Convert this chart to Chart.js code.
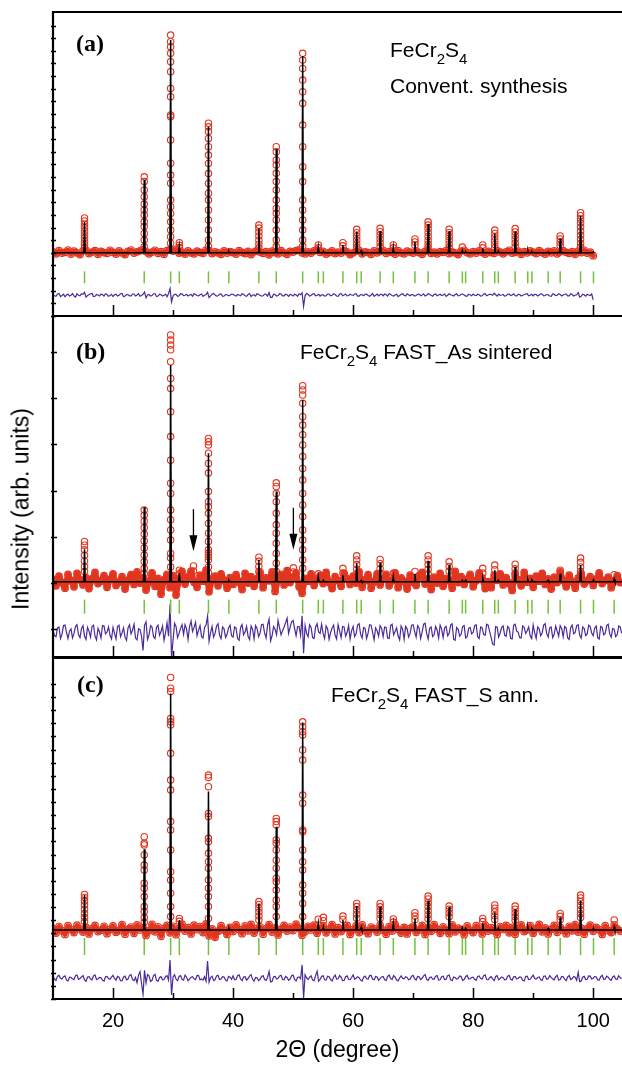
<!DOCTYPE html>
<html lang="en">
<head>
<meta charset="UTF-8">
<title>FeCr2S4 XRD refinement</title>
<script src="https://cdn.jsdelivr.net/npm/chart.js@4.4.0/dist/chart.umd.min.js"></script>
<style>
  body { margin: 0; background: #fff; overflow: hidden; }
  #wrap { position: relative; width: 622px; height: 1066px; font-family: "Liberation Sans", Arial, sans-serif; }
  canvas { position: absolute; left: 0; }
  .lbl { position: absolute; line-height: 1; white-space: nowrap; font-size: 21px; color: #000; }
  .lbl .s { font-size: 15px; position: relative; top: 7px; }
  .pan { position: absolute; line-height: 1; font-family: "Liberation Serif", "Times New Roman", serif; font-weight: bold; font-size: 24px; }
  #ytitle { position: absolute; left: 21px; top: 509px; font-size: 23px; line-height: 1; white-space: nowrap;
            transform: translate(-50%, -50%) rotate(-90deg); }
</style>
</head>
<body>
<div id="wrap">
  <canvas id="pa" width="622" height="318" style="top:0"></canvas>
  <canvas id="pb" width="622" height="353" style="top:306px"></canvas>
  <canvas id="pc" width="622" height="418" style="top:648px"></canvas>

  <div class="pan" style="left:76px; top:31px">(a)</div>
  <div class="pan" style="left:76px; top:339px">(b)</div>
  <div class="pan" style="left:77px; top:672px">(c)</div>

  <div class="lbl" style="left:390px; top:39px">FeCr<span class="s">2</span>S<span class="s">4</span></div>
  <div class="lbl" style="left:390px; top:75px">Convent. synthesis</div>
  <div class="lbl" style="left:300px; top:341px">FeCr<span class="s">2</span>S<span class="s">4</span> FAST_As sintered</div>
  <div class="lbl" style="left:331px; top:684px">FeCr<span class="s">2</span>S<span class="s">4</span> FAST_S ann.</div>

  <div id="ytitle">Intensity (arb. units)</div>
</div>

<script>
  // 2theta scan: observed background sampled every 0.5 deg, difference every 0.25 deg, both from 10
  const scanStart = 10;
  const obsStep = 0.5;
  const diffStep = 0.25;
  const xMin = 10;
  const xMax = 104.8;
  const xTickVals = [20, 30, 40, 50, 60, 70, 80, 90, 100];
  const xLabels = [20, 40, 60, 80, 100];

  // reflection positions (Bragg ticks and fitted peaks)
  const pkPos = [15.25, 25.2, 29.6, 31.05, 35.9, 39.3, 44.3, 47.2, 51.6, 54.2, 55.05, 58.3, 60.6, 61.35, 64.5,
    66.7, 70.3, 72.5, 76.0, 78.2, 78.75, 81.6, 83.6, 84.2, 87.0, 89.1, 89.8, 92.5, 94.5, 97.9, 100.05, 103.5];

  // ---------- (a) conventional synthesis ----------
  const calcBaseA = 25.0;
  const calcTopA = [37.2, 53.8, 109.3, 27.7, 74.9, 25.6, 34.7, 66.0, 102.9, 27.4, 25.6, 28.1, 33.4, 25.8, 33.6,
    27.4, 29.4, 36.4, 33.6, 25.9, 25.5, 26.8, 32.7, 25.7, 33.4, 26.0, 25.4, 25.3, 30.7, 39.6, 25.4, null];
  const obsColA = [
    [38.8, 37.6, 36.3, 35.0, 33.6, 32.2, 30.9, 29.5, 28.2, 27.0],
    [55.1, 53.2, 49.9, 47.2, 44.3, 42.0, 40.0, 37.3, 35.4, 32.7, 30.1, 27.4],
    [111.2, 108.6, 106.6, 104.0, 100.7, 96.7, 90.1, 86.8, 79.6, 78.9, 69.7, 60.5, 55.8, 52.6, 45.9, 43.3, 40.6, 37.3, 34.0, 31.4, 28.8],
    [29.0, 28.0, 27.1],
    [76.3, 74.9, 73.0, 70.3, 67.0, 63.7, 60.4, 56.4, 52.5, 48.6, 45.9, 42.0, 38.0, 34.0, 30.1, 27.6],
    [],
    [36.0, 34.8, 33.3, 31.7, 30.0, 28.4, 27.0],
    [67.0, 65.0, 61.8, 59.8, 56.5, 53.2, 49.9, 45.9, 42.6, 40.7, 38.0, 34.0, 30.1, 27.5],
    [104.0, 101.3, 98.0, 93.4, 88.8, 84.2, 75.6, 67.0, 59.1, 53.2, 45.9, 42.0, 38.0, 34.0, 30.1, 27.6],
    [28.1, 27.0],
    [],
    [29.0, 27.8],
    [34.3, 33.0, 31.6, 30.1, 28.6, 27.2],
    [],
    [34.7, 33.4, 32.0, 30.5, 29.0, 27.5],
    [28.1, 27.0],
    [30.5, 29.3, 28.0],
    [37.3, 36.0, 34.6, 33.1, 31.5, 29.9, 28.4, 27.1],
    [34.3, 33.0, 31.5, 30.0, 28.5, 27.1],
    [27.3],
    [],
    [28.1, 27.0],
    [34.0, 32.7, 31.3, 29.8, 28.3, 27.0],
    [],
    [34.6, 33.3, 31.9, 30.4, 28.9, 27.4],
    [], [], [],
    [31.7, 30.5, 29.2, 27.9],
    [40.9, 39.7, 38.3, 36.8, 35.2, 33.6, 32.0, 30.4, 28.8, 27.3],
    [],
    []
  ];
  const obsBaseA = [
    25.4, 24.6, 25.9, 24.9, 25.2, 26.1, 24.5, 25.7, 25.0, 24.3,
    25.8, 26.0, 24.7, 25.3, 25.9, 24.4, 25.6, 25.1, 24.8, 26.0,
    25.2, 24.5, 25.8, 25.0, 24.3, 25.6, 26.1, 24.9, 25.4, 25.8,
    26.2, 25.5, 24.6, 25.3, 26.0, 24.8, 25.5, 24.4, 25.9, 26.3,
    25.7, 26.4, 24.9, 25.3, 24.5, 25.8, 25.0, 24.6, 25.7, 25.2,
    24.8, 26.1, 25.9, 24.7, 25.4, 25.0, 24.4, 25.8, 24.9, 25.5,
    25.1, 24.5, 25.9, 25.2, 24.7, 25.6, 24.3, 25.4, 26.0, 25.3,
    24.8, 25.5, 24.2, 25.7, 25.1, 24.6, 25.9, 25.0, 24.4, 25.6,
    25.3, 25.9, 26.2, 25.0, 24.6, 25.4, 24.9, 25.8, 26.1, 25.2,
    25.6, 24.5, 25.1, 25.8, 24.7, 25.3, 24.9, 25.9, 25.4, 24.3,
    25.0, 25.7, 26.0, 24.6, 25.4, 25.1, 24.4, 25.8, 25.0, 25.6,
    26.0, 24.8, 25.5, 25.2, 24.5, 25.9, 25.0, 24.6, 25.7, 25.3,
    24.9, 25.8, 25.1, 24.4, 25.6, 25.9, 24.8, 25.3, 24.6, 25.5,
    25.2, 25.9, 24.7, 25.4, 25.0, 24.3, 25.7, 26.0, 25.1, 24.6,
    25.5, 24.9, 25.8, 25.2, 24.5, 25.6, 25.1, 24.8, 25.9, 25.3,
    24.6, 25.4, 26.0, 24.9, 25.2, 25.7, 24.4, 25.5, 25.0, 25.8,
    25.3, 24.7, 25.9, 25.1, 24.5, 25.6, 25.0, 25.8, 24.6, 25.4,
    25.9, 25.2, 24.8, 25.5, 24.4, 25.7, 25.1, 26.0, 24.9, 25.3,
    23.9
  ];
  const diffA = [
    8.5, 8.0, 7.8, 8.7, 8.9, 7.7, 8.1, 8.6, 7.6, 8.3, 8.7, 7.9, 8.2, 8.9, 7.9, 7.5, 8.8, 8.2, 8.0, 8.8,
    8.6, 9.4, 7.5, 8.1, 8.4, 8.8, 8.9, 7.7, 7.8, 8.5, 8.3, 7.9, 8.7, 8.4, 7.9, 8.8, 8.5, 7.8, 8.1, 8.6,
    7.7, 8.4, 8.6, 7.9, 8.2, 8.8, 8.9, 7.6, 7.9, 8.5, 8.4, 8.0, 8.0, 8.7, 8.7, 7.9, 8.3, 8.8, 7.8, 8.1,
    8.6, 9.5, 7.2, 8.3, 8.5, 7.9, 8.1, 8.8, 8.8, 7.7, 7.9, 8.6, 8.4, 7.9, 8.2, 8.6, 7.6, 8.9, 10.9, 5.6,
    7.9, 8.6, 8.6, 7.8, 8.0, 8.8, 8.7, 8.1, 8.2, 8.6, 7.9, 8.3, 8.5, 7.8, 8.9, 8.5, 8.1, 8.0, 8.4, 8.7,
    7.8, 8.2, 8.5, 9.4, 7.3, 8.0, 8.6, 8.9, 8.3, 7.9, 8.0, 8.6, 8.7, 7.8, 7.9, 8.5, 8.4, 8.0, 8.2, 8.7,
    8.6, 8.1, 7.9, 8.5, 8.3, 8.0, 8.8, 8.6, 8.0, 7.8, 8.5, 8.9, 7.7, 8.3, 8.4, 7.9, 8.9, 8.5, 8.2, 7.9,
    8.0, 8.7, 8.6, 7.9, 9.3, 7.4, 7.4, 8.6, 8.5, 7.9, 8.1, 8.8, 8.7, 8.0, 8.0, 8.6, 8.4, 7.8, 8.6, 8.3,
    7.9, 8.6, 8.3, 7.8, 8.8, 8.4, 9.2, 3.8, 8.1, 8.9, 8.6, 7.9, 8.1, 8.7, 8.8, 8.0, 8.2, 8.6, 7.9, 8.4,
    8.4, 7.9, 8.0, 8.7, 8.7, 8.0, 8.2, 8.8, 8.5, 7.9, 7.8, 8.6, 8.9, 8.0, 8.3, 8.7, 8.0, 8.1, 8.6, 8.3,
    8.2, 8.6, 8.8, 7.9, 7.9, 8.5, 8.4, 8.0, 8.6, 8.7, 8.1, 7.8, 8.3, 8.9, 7.8, 8.2, 8.7, 8.0, 8.5, 8.6,
    8.0, 8.7, 8.4, 7.9, 8.9, 8.5, 8.1, 7.9, 8.3, 8.6, 7.7, 8.1, 8.6, 8.8, 8.2, 7.9, 8.8, 8.4, 8.0, 8.5,
    8.4, 7.9, 8.1, 8.6, 8.7, 8.0, 8.3, 8.8, 7.9, 8.2, 8.9, 8.5, 8.2, 7.8, 8.5, 8.7, 8.0, 8.3, 8.6, 8.1,
    8.3, 8.7, 7.8, 8.2, 8.8, 8.4, 8.2, 7.9, 8.5, 8.8, 8.0, 8.1, 8.6, 8.7, 8.3, 7.9, 7.9, 8.6, 8.4, 8.0,
    8.7, 8.2, 8.1, 8.6, 8.4, 7.9, 8.0, 8.7, 8.8, 8.0, 8.3, 8.6, 8.5, 8.2, 9.0, 8.4, 7.9, 8.7, 8.2, 8.3,
    8.5, 7.9, 8.0, 8.6, 8.7, 8.1, 8.3, 8.8, 8.1, 7.9, 8.6, 8.5, 7.9, 8.2, 8.4, 8.7, 8.8, 8.0, 8.2, 8.6,
    8.0, 8.6, 8.5, 7.9, 8.3, 8.8, 8.7, 8.0, 8.1, 8.5, 8.4, 7.9, 7.8, 8.7, 8.6, 8.1, 8.2, 8.8, 8.5, 7.9,
    8.3, 8.6, 8.7, 8.0, 8.0, 8.8, 8.5, 7.9, 8.2, 8.4, 9.3, 7.5, 7.8, 8.6, 8.4, 7.9, 8.6, 8.3, 8.1, 8.7,
    6.4
  ];

  // ---------- (b) FAST as sintered ----------
  const calcBaseB = 10.3;
  const calcTopB = [17.3, 26.4, 57.2, 12.1, 38.1, 10.6, 15.0, 29.8, 49.6, 11.4, 10.6, 11.7, 14.3, 10.6, 14.4,
    11.4, 12.0, 14.8, 13.9, 10.6, 10.6, 11.0, 12.8, 10.6, 13.5, 10.8, 10.6, 10.6, 12.0, 13.9, 10.7, 10.9];
  const obsColB = [
    [19.0, 18.2, 17.2, 16.0, 14.8, 13.6, 12.5],
    [25.8, 24.7, 23.4, 22.0, 20.6, 19.1, 17.6, 16.1, 14.6, 13.2, 12.0],
    [63.7, 62.6, 61.5, 60.5, 57.9, 54.3, 52.1, 47.1, 41.7, 36.6, 31.6, 29.4, 25.8, 23.7, 21.5, 19.3, 16.4, 15.4, 13.5],
    [12.8, 12.0],
    [41.3, 40.6, 39.9, 38.1, 35.9, 33.8, 29.8, 27.6, 26.5, 25.1, 22.9, 20.8, 19.0, 17.2, 16.5, 15.7, 15.0, 13.5, 12.2],
    [],
    [15.6, 14.7, 13.6, 12.5],
    [31.7, 30.9, 29.4, 27.6, 25.1, 22.6, 20.8, 18.6, 16.4, 14.3, 12.5],
    [52.7, 51.8, 50.7, 48.9, 46.0, 44.2, 42.1, 39.9, 37.4, 34.8, 32.3, 29.4, 26.9, 24.4, 21.5, 19.3, 17.2, 15.0, 13.2],
    [12.0],
    [],
    [13.2, 12.2],
    [15.9, 15.0, 14.0, 13.0, 12.0],
    [],
    [15.1, 14.2, 13.1, 12.1],
    [12.1],
    [12.5],
    [15.9, 15.0, 14.0, 13.0, 12.0],
    [14.6, 13.6, 12.6],
    [], [],
    [13.2, 12.2],
    [13.9, 12.9],
    [],
    [14.1, 13.1, 12.2],
    [], [], [],
    [12.8],
    [15.4, 14.5, 13.5, 12.5],
    [],
    [11.8]
  ];
  // small impurity reflections marked by arrows
  const impPosB = [33.4, 50.05];
  const impObsB = [[13.7, 12.6], [13.3, 12.4]];
  const arrowTopB = [26.0, 26.3];
  const arrowTipB = [16.9, 17.2];
  const obsBaseB = [
    10.8, 9.4, 11.5, 10.1, 8.9, 11.9, 10.5, 9.2, 12.1, 10.7,
    9.6, 11.2, 8.8, 10.9, 12.3, 9.9, 10.4, 11.6, 9.1, 10.8,
    12.0, 9.5, 10.2, 11.4, 8.7, 10.6, 11.8, 9.7, 12.4, 10.0,
    11.1, 8.5, 10.3, 12.2, 9.3, 11.0, 7.6, 10.7, 11.9, 9.0,
    11.6, 7.4, 10.9, 12.5, 9.8, 11.3, 12.6, 10.2, 9.1, 11.7,
    10.4, 12.8, 8.1, 10.8, 11.5, 9.4, 12.0, 10.6, 8.9, 11.2,
    9.7, 11.8, 10.3, 8.6, 12.1, 10.0, 11.4, 9.3, 10.9, 12.3,
    9.0, 11.1, 10.5, 12.4, 8.2, 10.7, 11.9, 9.6, 12.7, 10.1,
    11.3, 12.2, 9.2, 7.8, 11.0, 10.4, 12.0, 9.5, 10.8, 11.6,
    9.9, 12.3, 10.2, 8.8, 11.4, 10.6, 9.3, 12.1, 10.9, 9.7,
    11.5, 10.0, 12.4, 9.1, 10.7, 11.8, 8.9, 10.3, 12.0, 9.6,
    10.8, 11.9, 9.4, 10.5, 12.2, 9.0, 11.1, 10.4, 8.7, 11.7,
    10.2, 9.5, 11.6, 12.3, 9.8, 10.9, 8.6, 11.3, 10.0, 12.1,
    9.3, 11.0, 10.6, 8.9, 12.5, 10.1, 11.4, 9.7, 10.8, 11.9,
    9.2, 10.5, 12.2, 11.1, 8.8, 10.3, 9.0, 11.7, 10.6, 12.0,
    9.6, 11.2, 10.0, 8.4, 11.8, 10.7, 9.4, 12.3, 10.2, 11.0,
    9.1, 11.5, 10.4, 12.1, 9.7, 10.9, 8.7, 11.3, 10.1, 12.4,
    10.6, 9.2, 11.7, 10.3, 8.9, 11.1, 12.0, 9.8, 10.5, 11.4,
    9.5, 10.8, 12.2, 9.9, 10.6, 11.3, 9.0, 10.4, 11.6, 10.1
  ];
  const diffB = [
    -0.2, -1.4, -1.6, 0.3, 0.5, -2.0, -1.1, 0.8, 0.9, -0.7, -2.0, -0.4, 0.1, -1.9, -0.9, 0.6, 1.0, -1.2, -1.8, 0.2,
    0.8, -1.5, -2.2, 0.4, -0.4, -1.7, 0.6, 0.9, -1.5, -2.3, 0.2, -0.6, -1.9, 0.8, 0.7, -1.0, -0.6, 0.5, -1.3, -2.1,
    0.4, -0.9, -2.1, 0.6, 0.9, -1.6, -0.8, 0.3, -1.7, -2.4, 0.3, 1.0, -1.0, -0.2, 1.1, -1.9, -2.3, 0.1, -0.1, -1.5,
    -4.6, 0.9, 1.6, -2.2, -1.2, 0.8, 0.5, -1.6, -2.0, 0.4, 0.9, -1.3, -0.5, 0.7, -2.4, -0.8, 1.4, -1.5, 5.4, -6.0,
    -2.4, 1.3, 0.6, -1.8, -0.9, 0.2, 1.0, -1.1, 1.0, 0.1, -2.2, 0.6, 1.8, -0.5, 0.4, 1.5, -1.4, -0.2, 0.8, -1.6,
    -1.9, 0.4, 0.9, 2.8, -2.6, -0.8, 0.6, -1.7, -0.9, 0.7, 1.2, -1.3, -2.0, 0.5, 0.1, -1.8, -1.1, 0.3, 0.9, -1.4,
    -1.7, 0.5, 0.3, -2.0, -2.4, 0.4, 1.0, -1.2, -0.6, 0.6, -1.5, -2.2, 0.7, 0.0, -2.1, 0.8, 0.2, -1.6, -0.8, 1.0,
    1.1, -0.8, -1.9, 0.9, 2.2, -2.5, -1.4, 0.6, 0.0, -1.2, 1.9, 0.3, -1.2, -0.3, 0.5, 1.4, 2.4, -0.9, 0.4, 1.6,
    1.9, 0.2, -1.4, 0.6, 0.6, -1.3, 2.9, -5.2, 0.8, -0.9, -1.6, 1.0, 0.4, -1.8, -2.0, 0.5, 1.2, -0.6, -0.9, 1.1,
    -0.9, -2.0, 0.7, 0.1, -2.2, -0.7, 0.3, 0.9, -1.3, -2.1, 1.0, -0.4, -1.8, 0.6, 0.5, -1.5, -0.7, 0.8, -2.1, -0.3,
    0.6, -1.6, -1.0, 0.9, 1.2, -1.1, -1.9, 0.4, 0.2, -2.0, -0.8, 1.0, 0.9, -0.7, -2.3, 0.3, -0.3, -1.5, 0.8, 0.2,
    -1.6, 0.5, 0.4, -1.9, -2.0, 0.8, 1.1, -1.2, -0.5, 0.3, -1.4, -2.3, 0.7, 0.0, -2.2, 0.6, 0.1, -1.7, -0.9, 0.9,
    1.0, -0.5, -1.7, 0.8, 0.3, -2.0, -0.6, 1.1, 1.3, -0.9, -2.1, 0.2, 0.5, -1.6, -1.2, 0.6, -0.2, -1.9, 0.9, 0.1,
    -1.8, 0.3, 0.6, -1.4, -0.9, 0.9, 1.2, -2.2, -2.4, 0.4, 0.0, -1.5, -1.1, 0.6, 0.8, -1.9, -1.6, 0.2, 0.4, -1.0,
    -0.7, 0.8, 1.0, -1.6, -2.0, 0.5, 0.3, -1.1, -1.3, 1.1, 0.9, -0.5, -1.8, -3.2, -3.4, 0.6, 0.5, -1.7, -0.8, 0.4,
    0.7, -1.3, -1.5, 0.6, 0.2, -2.0, -2.1, 0.9, 1.1, -0.4, -0.6, -1.8, -1.9, 0.7, 0.4, -0.9, -0.3, 0.5, -1.4, -2.0,
    0.9, -0.8, -2.0, 0.5, 0.1, -1.4, -0.8, 0.9, 1.2, -0.9, -1.7, 0.3, 0.5, -1.8, -1.1, 0.7, -0.4, -1.5, 0.8, 0.2,
    -1.6, 0.6, 0.3, -1.9, -2.2, 0.4, 0.9, -1.0, -0.7, 0.8, 1.0, -1.3, -1.9, 0.5, 0.2, -1.4, -1.0, 0.9, 0.6, -0.8,
    -1.4, 0.3, 0.7, -1.8, -2.1, 0.6, 0.4, -1.2, -0.9, 0.8, 1.1, -1.0, -1.7, 0.2, 0.0, -1.6, -1.2, 0.7, 0.5, -0.9
  ];

  // ---------- (c) FAST + S annealed ----------
  const calcBaseC = 26.3;
  const calcTopC = [39.6, 57.0, 116.4, 30.1, 79.0, 27.0, 36.4, 65.6, 105.3, 28.8, 27.5, 30.1, 35.4, 27.3, 35.1,
    28.8, 30.7, 37.5, 35.1, 27.2, 26.9, 28.8, 32.9, 27.0, 34.2, 27.5, 26.8, 26.9, 31.1, 37.5, 27.0, 27.5];
  const obsColC = [
    [39.8, 38.7, 37.3, 35.8, 34.2, 32.6, 31.0, 29.5],
    [61.8, 59.3, 58.7, 54.9, 51.0, 49.1, 44.1, 42.2, 39.0, 35.2, 33.3, 31.0, 29.2],
    [122.5, 118.4, 117.1, 106.9, 105.6, 104.4, 93.6, 83.4, 79.6, 67.6, 64.4, 56.8, 48.5, 45.3, 40.3, 35.2, 31.4],
    [30.7, 29.6],
    [85.3, 84.4, 80.9, 70.7, 69.5, 61.2, 59.9, 55.5, 52.3, 49.8, 45.3, 42.2, 39.0, 35.2, 30.7],
    [],
    [37.1, 36.0, 34.6, 33.1, 31.6, 30.1],
    [68.8, 67.6, 66.3, 60.6, 59.3, 56.8, 52.9, 49.8, 46.0, 44.7, 41.5, 37.7, 35.2, 31.4],
    [105.6, 103.7, 101.8, 100.6, 94.9, 91.0, 77.7, 74.6, 64.4, 63.7, 56.8, 52.3, 49.1, 43.4, 40.3, 36.4, 31.4],
    [30.4],
    [31.1, 29.8],
    [31.6, 30.3],
    [36.4, 35.2, 33.8, 32.3, 30.8],
    [],
    [36.4, 35.1, 33.7, 32.2, 30.7],
    [30.5, 29.3],
    [32.9, 31.6, 30.2],
    [39.2, 38.1, 36.7, 35.2, 33.6, 32.1, 30.6],
    [35.4, 34.2, 32.8, 31.3],
    [], [],
    [30.7, 29.5],
    [35.8, 34.6, 33.2, 31.7, 30.3],
    [],
    [35.4, 34.2, 32.8, 31.3, 30.0],
    [], [], [],
    [32.6, 31.5, 30.2],
    [39.6, 38.5, 37.1, 35.6, 34.0, 32.5, 31.0],
    [],
    [30.1]
  ];
  const obsBaseC = [
    26.9, 25.1, 27.6, 26.0, 24.6, 27.9, 26.4, 25.3, 28.1, 26.7,
    25.5, 27.3, 24.8, 26.8, 28.0, 25.7, 26.2, 27.7, 24.9, 26.5,
    27.8, 25.4, 26.1, 28.3, 24.7, 26.6, 27.4, 25.0, 28.2, 26.3,
    27.1, 24.2, 26.0, 28.4, 25.6, 27.5, 23.9, 26.9, 28.0, 25.2,
    27.7, 24.5, 26.8, 28.5, 25.9, 27.2, 24.8, 28.1, 26.4, 27.6,
    25.3, 28.6, 24.1, 26.7, 23.5, 25.8, 27.9, 26.2, 24.6, 27.3,
    25.7, 28.2, 26.5, 24.9, 27.8, 26.0, 28.4, 25.1, 26.9, 27.5,
    24.7, 26.8, 28.3, 25.5, 27.1, 24.4, 26.6, 28.0, 25.9, 27.4,
    26.1, 28.5, 27.0, 24.3, 25.6, 27.7, 26.3, 28.1, 25.0, 26.8,
    27.9, 25.2, 26.6, 28.3, 24.8, 27.2, 25.7, 26.9, 28.0, 24.6,
    26.4, 27.8, 25.3, 28.2, 26.0, 24.9, 27.4, 26.7, 25.5, 28.1,
    26.2, 24.7, 27.6, 25.9, 28.4, 26.5, 25.1, 27.3, 24.8, 26.9,
    27.7, 25.4, 26.3, 28.0, 24.6, 27.1, 25.8, 28.3, 26.6, 25.0,
    27.5, 26.1, 24.9, 28.2, 25.6, 27.0, 26.4, 24.5, 27.8, 26.2,
    25.3, 27.9, 26.7, 24.8, 28.1, 25.9, 27.2, 26.0, 24.6, 27.6,
    26.5, 28.0, 25.2, 27.3, 24.7, 26.8, 28.2, 25.7, 26.3, 27.9,
    25.0, 26.9, 28.4, 25.6, 27.1, 24.8, 26.6, 28.0, 25.4, 27.4,
    26.2, 24.9, 27.7, 26.0, 28.3, 25.5, 27.0, 24.7, 26.8, 28.1,
    25.8, 27.3, 26.4, 24.6, 27.9, 26.1, 25.3, 28.2, 26.7, 25.9
  ];
  const diffC = [
    8.4, 7.6, 7.1, 8.7, 9.0, 7.9, 7.6, 8.5, 8.8, 7.2, 6.9, 8.3, 8.2, 7.7, 7.4, 8.9, 9.1, 7.5, 7.8, 8.4,
    8.9, 7.3, 6.7, 8.4, 8.5, 7.6, 7.3, 8.8, 9.2, 7.4, 7.7, 8.2, 8.1, 7.1, 6.8, 8.5, 8.6, 7.8, 7.5, 8.3,
    9.0, 7.8, 7.2, 8.6, 8.3, 7.0, 6.9, 8.4, 8.7, 7.3, 7.6, 9.0, 9.3, 7.4, 7.0, 8.2, 6.2, 9.1, 10.4, 5.9,
    1.8, 10.9, 6.1, 9.3, 8.8, 6.7, 7.1, 8.9, 9.4, 7.0, 6.8, 8.2, 8.5, 7.3, 7.4, 8.6, 8.9, 7.2, 14.8, 1.5,
    8.4, 9.2, 7.6, 7.0, 8.6, 8.9, 7.5, 7.2, 9.1, 8.3, 6.9, 7.7, 8.3, 8.5, 7.7, 7.4, 8.9, 9.0, 7.3, 7.6,
    7.2, 8.5, 6.8, 14.5, 6.4, 8.2, 8.7, 7.1, 7.3, 8.8, 9.0, 7.4, 7.6, 8.5, 8.4, 7.2, 6.9, 8.6, 8.3, 7.5,
    8.8, 7.3, 7.4, 8.9, 9.2, 7.6, 7.0, 8.4, 8.5, 7.2, 7.8, 8.7, 9.3, 7.5, 6.8, 8.2, 8.1, 7.0, 7.5, 8.6,
    8.9, 7.4, 7.1, 8.3, 10.5, 6.5, 6.7, 8.5, 8.6, 7.6, 7.9, 8.8, 9.0, 7.4, 7.3, 8.6, 8.2, 7.1, 7.6, 8.9,
    9.1, 7.5, 6.9, 8.2, 8.4, 7.7, 13.0, 0.4, 9.2, 8.0, 7.4, 8.3, 8.8, 7.2, 7.0, 8.9, 10.6, 6.8, 7.5, 8.6,
    8.9, 7.3, 7.2, 8.7, 8.5, 7.4, 6.9, 8.3, 9.1, 7.6, 7.7, 8.9, 8.3, 7.0, 7.1, 8.5, 8.8, 7.5, 7.4, 8.2,
    9.2, 7.6, 7.9, 8.5, 8.1, 7.2, 6.8, 8.3, 8.7, 7.7, 7.6, 8.9, 9.0, 7.5, 7.3, 8.6, 8.4, 7.1, 7.8, 8.4,
    8.6, 7.4, 7.0, 8.6, 9.1, 7.8, 7.5, 8.9, 8.3, 7.2, 6.9, 8.0, 8.8, 7.9, 7.7, 8.5, 8.2, 7.3, 7.6, 8.7,
    9.0, 7.7, 7.2, 8.6, 8.5, 7.4, 7.9, 8.8, 9.3, 7.5, 7.1, 8.2, 8.4, 7.6, 7.6, 8.7, 8.9, 7.2, 7.3, 8.5,
    8.7, 7.4, 7.5, 8.9, 9.1, 7.3, 7.0, 8.4, 8.2, 7.6, 7.8, 8.8, 8.6, 7.1, 7.4, 8.5, 9.0, 7.6, 7.7, 8.2,
    8.3, 7.5, 7.1, 8.6, 8.8, 7.8, 7.6, 8.9, 9.2, 7.4, 7.3, 8.1, 8.5, 7.7, 7.0, 8.6, 8.9, 7.3, 7.8, 8.4,
    8.1, 7.3, 7.4, 8.7, 9.0, 7.5, 7.2, 8.5, 8.6, 7.6, 7.9, 8.4, 8.3, 7.1, 6.9, 8.6, 8.7, 7.4, 7.5, 8.3,
    9.1, 7.8, 7.6, 8.2, 8.4, 7.3, 7.1, 8.7, 8.8, 7.5, 7.7, 8.9, 8.2, 7.6, 7.3, 8.5, 9.0, 7.2, 7.4, 8.6,
    8.5, 7.6, 7.0, 8.4, 8.9, 7.4, 7.8, 8.6, 8.3, 7.1, 10.2, 6.6, 6.8, 8.3, 8.6, 7.4, 7.5, 8.8, 8.7, 7.6,
    7.9, 8.6, 8.4, 7.3, 7.2, 8.5, 9.0, 7.4, 7.6, 8.7, 8.3, 7.5, 7.1, 8.4, 8.8, 7.6, 7.4, 8.9, 8.1, 7.7
  ];

  Chart.defaults.font.family = '"Liberation Sans", Arial, sans-serif';
  Chart.defaults.color = '#000';

  const RED = '#e2351f';
  const GREEN = '#74c23a';
  const PURPLE = '#4b2a9a';

  // inward ticks + open frame (no right edge, it is cut off)
  const framePlugin = {
    id: 'frame',
    afterDatasetsDraw(chart, args, o) {
      const { ctx, chartArea: a, scales: { x, y } } = chart;
      ctx.save();
      ctx.strokeStyle = '#000';
      ctx.lineWidth = 1.5;
      ctx.beginPath();
      xTickVals.forEach(v => {
        const px = Math.round(x.getPixelForValue(v)) + 0.5;
        const len = v % 20 === 0 ? 11 : 6;
        ctx.moveTo(px, a.bottom);
        ctx.lineTo(px, a.bottom - len);
      });
      y.ticks.forEach(t => {
        const r = t.value / o.yStep;
        if (Math.abs(r - Math.round(r)) > 1e-6) return;
        const py = Math.round(y.getPixelForValue(t.value)) + 0.5;
        ctx.moveTo(a.left - 2, py);
        ctx.lineTo(a.left + o.tickIn, py);
      });
      ctx.stroke();
      ctx.lineWidth = 2.2;
      ctx.beginPath();
      ctx.moveTo(a.right + 5, a.top);
      ctx.lineTo(a.left, a.top);
      ctx.lineTo(a.left, a.bottom);
      ctx.lineTo(a.right + 5, a.bottom);
      ctx.stroke();
      ctx.restore();
    }
  };

  const arrowPlugin = {
    id: 'arrows',
    afterDatasetsDraw(chart, args, o) {
      if (!o.xs) return;
      const { ctx, scales: { x, y } } = chart;
      ctx.save();
      ctx.strokeStyle = '#000';
      ctx.fillStyle = '#000';
      ctx.lineWidth = 1.3;
      o.xs.forEach((v, i) => {
        const px = x.getPixelForValue(v);
        const y0 = y.getPixelForValue(o.tops[i]);
        const y1 = y.getPixelForValue(o.tips[i]);
        ctx.beginPath();
        ctx.moveTo(px, y0);
        ctx.lineTo(px, y1 - 12);
        ctx.stroke();
        ctx.beginPath();
        ctx.moveTo(px - 4, y1 - 16);
        ctx.lineTo(px + 4, y1 - 16);
        ctx.lineTo(px, y1);
        ctx.closePath();
        ctx.fill();
      });
      ctx.restore();
    }
  };

  function scanPoints(vals, step) {
    return vals.map((v, i) => ({ x: scanStart + i * step, y: v }));
  }

  function makePanel(id, p) {
    const calc = [{ x: xMin, y: p.base }];
    pkPos.forEach((pos, k) => {
      const top = p.calcTop[k];
      if (top == null) return;
      calc.push({ x: pos - 0.12, y: p.base }, { x: pos, y: top }, { x: pos + 0.12, y: p.base });
    });
    if (p.end > calc[calc.length - 1].x) calc.push({ x: p.end, y: p.base });

    const peaks = [];
    pkPos.forEach((pos, k) => (p.obsCol[k] || []).forEach(v => peaks.push({ x: pos, y: v })));
    (p.impPos || []).forEach((pos, k) => p.impObs[k].forEach(v => peaks.push({ x: pos, y: v })));

    const bragg = pkPos.filter(v => v <= p.end).map(v => ({ x: v, y: p.braggLevel }));

    const labels = p.bottom;
    new Chart(document.getElementById(id), {
      type: 'scatter',
      data: {
        datasets: [
          { label: 'calc', data: calc, showLine: true, borderColor: '#000', borderWidth: 1.5, pointRadius: 0 },
          { label: 'obs peaks', data: peaks, pointRadius: 3.2, pointBorderWidth: 1.1,
            pointBorderColor: RED, pointBackgroundColor: 'rgba(0,0,0,0)' },
          { label: 'obs', data: scanPoints(p.obsBase, obsStep), showLine: true, borderColor: RED, borderWidth: p.bandW,
            borderJoinStyle: 'round', borderCapStyle: 'round',
            pointRadius: 3.3, pointBorderWidth: 1.2, pointBorderColor: RED, pointBackgroundColor: 'rgba(0,0,0,0)' },
          { label: 'bragg', data: bragg, pointStyle: 'line', rotation: 90, pointRadius: p.braggLen,
            pointBorderColor: GREEN, pointBorderWidth: 1.5 },
          { label: 'diff', data: scanPoints(p.diff, diffStep), showLine: true, borderColor: PURPLE,
            borderWidth: 1.2, pointRadius: 0 }
        ]
      },
      options: {
        responsive: false,
        animation: false,
        events: [],
        layout: { autoPadding: false, padding: { top: p.padTop, bottom: labels ? 0 : 2, left: 0, right: 0 } },
        plugins: {
          legend: { display: false },
          tooltip: { enabled: false },
          frame: { yStep: p.yStep, tickIn: p.tickIn },
          arrows: p.arrows || {}
        },
        scales: {
          x: {
            type: 'linear', min: xMin, max: xMax,
            grid: { display: false, drawTicks: false },
            border: { display: false },
            ticks: {
              display: labels, stepSize: 10, includeBounds: false, autoSkip: false, maxRotation: 0, padding: 10,
              font: { size: 20 },
              callback: v => xLabels.includes(v) ? String(v) : ''
            },
            title: { display: labels, text: '2Θ (degree)', font: { size: 23 }, padding: { top: 2, bottom: 2 } },
            afterFit: s => {
              s.height = labels ? 67 : 0;
              s.paddingLeft = 0;
              s.paddingRight = 0;
            }
          },
          y: {
            min: p.yMin, max: p.yMax,
            grid: { display: false, drawTicks: false },
            border: { display: false },
            ticks: { display: false, stepSize: p.yStep },
            afterFit: s => { s.width = 53; }
          }
        }
      },
      plugins: [framePlugin, arrowPlugin]
    });
  }

  makePanel('pa', { base: calcBaseA, calcTop: calcTopA, obsCol: obsColA, obsBase: obsBaseA, diff: diffA,
    end: 100.2, braggLevel: 15.3, braggLen: 6, yMin: 0, yMax: 120.35, yStep: 5, tickIn: 3, bandW: 5,
    padTop: 12, bottom: false });

  makePanel('pb', { base: calcBaseB, calcTop: calcTopB, obsCol: obsColB, obsBase: obsBaseB, diff: diffB,
    impPos: impPosB, impObs: impObsB, end: xMax, braggLevel: 4.9, braggLen: 7, yMin: -6, yMax: 67.8, yStep: 10,
    tickIn: 4, bandW: 6, padTop: 10, bottom: false,
    arrows: { xs: impPosB, tops: arrowTopB, tips: arrowTipB } });

  makePanel('pc', { base: calcBaseC, calcTop: calcTopC, obsCol: obsColC, obsBase: obsBaseC, diff: diffC,
    end: xMax, braggLevel: 20.0, braggLen: 8.5, yMin: 0, yMax: 129.9, yStep: 5, tickIn: 3, bandW: 5,
    padTop: 10, bottom: true });
</script>
</body>
</html>
